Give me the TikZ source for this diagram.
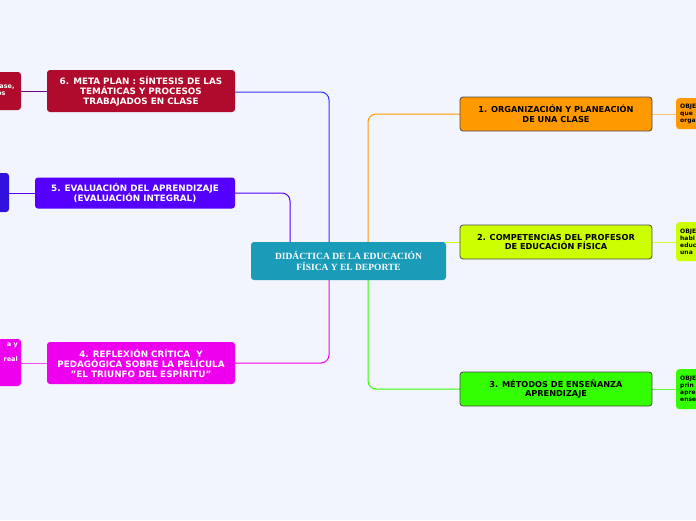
\documentclass[tikz,border=0pt]{standalone}
\usepackage{fontspec}
\setmainfont{DejaVu Sans}
\newfontfamily\serifb{Liberation Serif}
\begin{document}
\begin{tikzpicture}[x=1pt,y=-1pt,
 box/.style={rounded corners=3pt,inner sep=0pt,font=\fontsize{8.8}{10}\selectfont\bfseries,align=center,text=white},
 rbox/.style={rounded corners=3pt,inner sep=0pt,draw=black!70,line width=0.8pt,font=\fontsize{8.2}{9.6}\selectfont\bfseries,align=center,text=black},
 leaf/.style={rounded corners=3pt,inner sep=2pt,font=\fontsize{6}{7}\selectfont\bfseries,align=left,anchor=north west},
 con/.style={line width=1pt,rounded corners=8pt}]
\definecolor{bg}{HTML}{F2F5FD}
\definecolor{cteal}{HTML}{1A9BB8}
\definecolor{cor}{HTML}{FF9900}
\definecolor{cy}{HTML}{CCFF00}
\definecolor{cg}{HTML}{33FF00}
\definecolor{cr}{HTML}{B00B2C}
\definecolor{cpu}{HTML}{5500FF}
\definecolor{cpu2}{HTML}{3311DD}
\definecolor{cmag}{HTML}{EE00EE}
\useasboundingbox (0,0) rectangle (696,520);
\clip (0,0) rectangle (696,520);
\fill[bg] (0,0) rectangle (696,520);
% connectors
\draw[con,color=blue!80] (329,242) -- (329,92) -- (235,92);
\draw[con,color=cpu] (290,242) -- (290,193) -- (235,193);
\draw[con,color=cmag] (329,280) -- (329,363) -- (235,363);
\draw[con,color=cor] (368,242) -- (368,114) -- (460,114);
\draw[con,color=cy] (446,242) -- (460,242);
\draw[con,color=cg] (368,280) -- (368,389) -- (460,389);
\draw[line width=1pt,color=cr!60!blue] (21,91) -- (47,91);
\draw[line width=1pt,color=cpu] (9,193) -- (35,193);
\draw[line width=1pt,color=cmag!70] (21,363) -- (47,363);
\draw[line width=1pt,color=cor!60] (652,114) -- (676,114);
\draw[line width=1pt,color=cy!80] (652,242) -- (676,242);
\draw[line width=1pt,color=cg!80] (652,389) -- (676,389);
% center
\node[box,fill=cteal,minimum width=195pt,minimum height=38pt,font=\serifb\fontsize{9.5}{10.5}\selectfont\bfseries] (c) at (348.5,261) {DIDÁCTICA DE LA EDUCACIÓN\\FÍSICA Y EL DEPORTE};
% left
\node[box,fill=cr,minimum width=188pt,minimum height=42pt] (l6) at (141,91) {6. META PLAN : SÍNTESIS DE LAS\\TEMÁTICAS Y PROCESOS\\TRABAJADOS EN CLASE};
\node[box,fill=cpu,minimum width=200pt,minimum height=31pt] (l5) at (135,193) {5. EVALUACIÓN DEL APRENDIZAJE\\(EVALUACIÓN INTEGRAL)};
\node[box,fill=cmag,minimum width=188pt,minimum height=42pt] (l4) at (141,363) {4. REFLEXIÓN CRÍTICA\ \ Y\\PEDAGÓGICA SOBRE LA PELÍCULA\\"EL TRIUNFO DEL ESPÍRITU"};
% right
\node[rbox,fill=cor,minimum width=192pt,minimum height=34pt] (r1) at (556,114) {1. ORGANIZACIÓN Y PLANEACIÓN\\DE UNA CLASE};
\node[rbox,fill=cy,minimum width=192pt,minimum height=34pt] (r2) at (556,242) {2. COMPETENCIAS DEL PROFESOR\\DE EDUCACIÓN FÍSICA};
\node[rbox,fill=cg,minimum width=192pt,minimum height=34pt] (r3) at (556,389) {3. MÉTODOS DE ENSEÑANZA\\APRENDIZAJE};
% leaves
\fill[cr,rounded corners=3pt] (-20,72) rectangle (21,110);
\node[font=\fontsize{6.5}{7.5}\selectfont\bfseries,text=white,anchor=north west,align=left,inner sep=0pt] (k6) at (-3,83) {lase,\\os};
\fill[cpu2,rounded corners=3pt] (-20,173) rectangle (9,212);
\fill[cmag,rounded corners=3pt] (-20,339) rectangle (21,386);
\node[font=\fontsize{6.5}{7.5}\selectfont\bfseries,text=white,anchor=north east,align=right,inner sep=0pt] (k4) at (18,343) {a y\\\\real};
\node[leaf,fill=cor,minimum width=40pt,minimum height=31pt] (q1) at (676,98) {OBJETIVO\\que\\orga};
\node[leaf,fill=cy,minimum width=40pt,minimum height=39pt] (q2) at (676,222) {OBJETIVO\\habl\\educ\\una};
\node[leaf,fill=cg,minimum width=40pt,minimum height=40pt] (q3) at (676,369) {OBJETIVO\\prin\\apre\\ense};
\end{tikzpicture}
\end{document}
